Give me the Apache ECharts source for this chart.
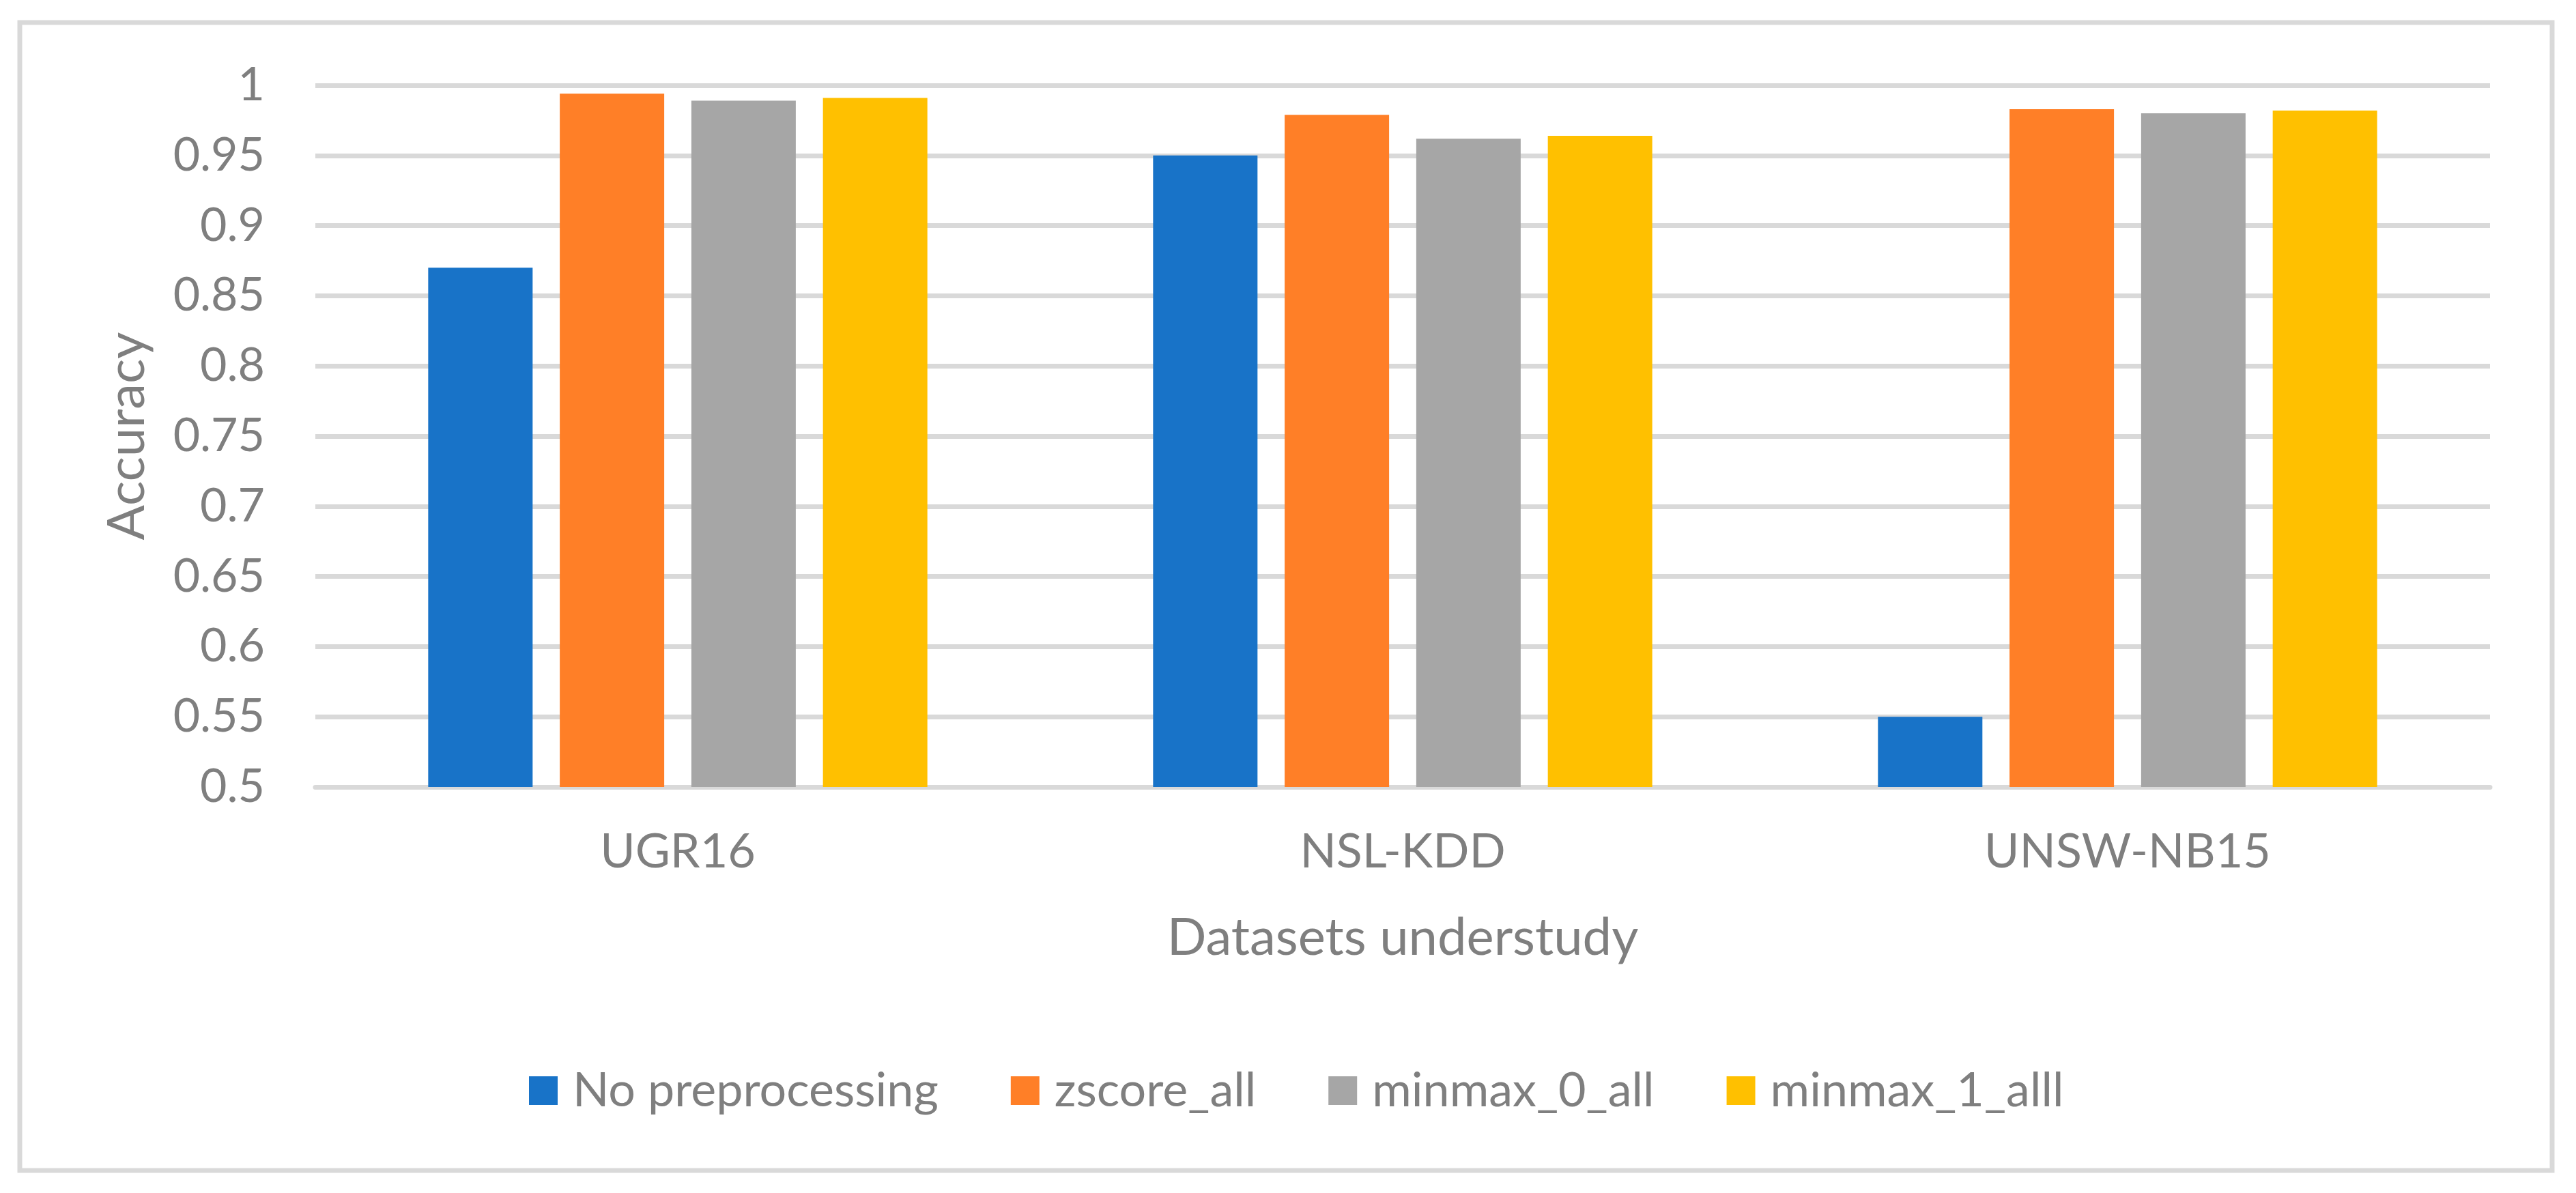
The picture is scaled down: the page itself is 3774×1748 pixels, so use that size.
<!DOCTYPE html>
<html>
<head>
<meta charset="utf-8">
<script src="https://cdn.jsdelivr.net/npm/echarts@6/dist/echarts.min.js"></script>
<style>
html,body{margin:0;padding:0;background:#fff;}
#chart{width:3774px;height:1748px;}
</style>
</head>
<body>
<div id="chart"></div>
<script>
const categories = ['UGR16', 'NSL-KDD', 'UNSW-NB15'];
const seriesNames = ['No preprocessing', 'zscore_all', 'minmax_0_all', 'minmax_1_alll'];
const noPreprocessing = [0.870, 0.950, 0.550];
const zscoreAll = [0.994, 0.979, 0.983];
const minmax0All = [0.989, 0.962, 0.980];
const minmax1Alll = [0.991, 0.964, 0.982];
const yTicks = [0.5, 0.55, 0.6, 0.65, 0.7, 0.75, 0.8, 0.85, 0.9, 0.95, 1];

const colors = ['#1873C8', '#FF7F27', '#A6A6A6', '#FFC000'];
const values = [noPreprocessing, zscoreAll, minmax0All, minmax1Alll];
const textColor = '#7F7F7F';
const font = 'Lato';

const chart = echarts.init(document.getElementById('chart'));
chart.setOption({
  backgroundColor: '#ffffff',
  animation: false,
  color: colors,
  textStyle: { fontFamily: font, color: textColor },
  graphic: [{
    type: 'rect',
    shape: { x: 29, y: 33, width: 3710, height: 1682 },
    style: { fill: 'none', stroke: '#D9D9D9', lineWidth: 7 },
    z: -1
  }],
  grid: { left: 462, right: 126, top: 125, bottom: 595, containLabel: false },
  legend: {
    left: 770,
    top: 1553,
    itemWidth: 42,
    itemHeight: 42,
    itemGap: 106,
    icon: 'rect',
    data: seriesNames,
    textStyle: { fontFamily: font, fontSize: 70, color: textColor, lineHeight: 80, padding: [0, 0, 0, 17] }
  },
  xAxis: {
    type: 'category',
    data: categories,
    name: 'Datasets understudy',
    nameLocation: 'middle',
    nameGap: 183,
    nameTextStyle: { fontFamily: font, fontSize: 76, color: textColor },
    axisLine: { show: true, lineStyle: { color: '#D9D9D9', width: 7 } },
    axisTick: { show: false },
    axisLabel: { margin: 60, fontFamily: font, fontSize: 70, color: textColor }
  },
  yAxis: {
    type: 'value',
    min: 0.5,
    max: 1,
    interval: 0.05,
    name: 'Accuracy',
    nameLocation: 'middle',
    nameGap: 238,
    nameTextStyle: { fontFamily: font, fontSize: 76, color: textColor },
    axisLine: { show: false },
    axisTick: { show: false },
    splitLine: { show: true, lineStyle: { color: '#D9D9D9', width: 7 } },
    axisLabel: {
      margin: 74, fontFamily: font, fontSize: 68, color: textColor,
      formatter: function (v) {
        const t = yTicks.find(x => Math.abs(x - v) < 1e-9);
        return t !== undefined ? String(t) : '';
      }
    }
  },
  series: seriesNames.map((name, i) => ({
    name: name,
    type: 'bar',
    data: values[i],
    barWidth: 153,
    barGap: '26%',
    itemStyle: { color: colors[i] }
  }))
});
</script>
</body>
</html>
